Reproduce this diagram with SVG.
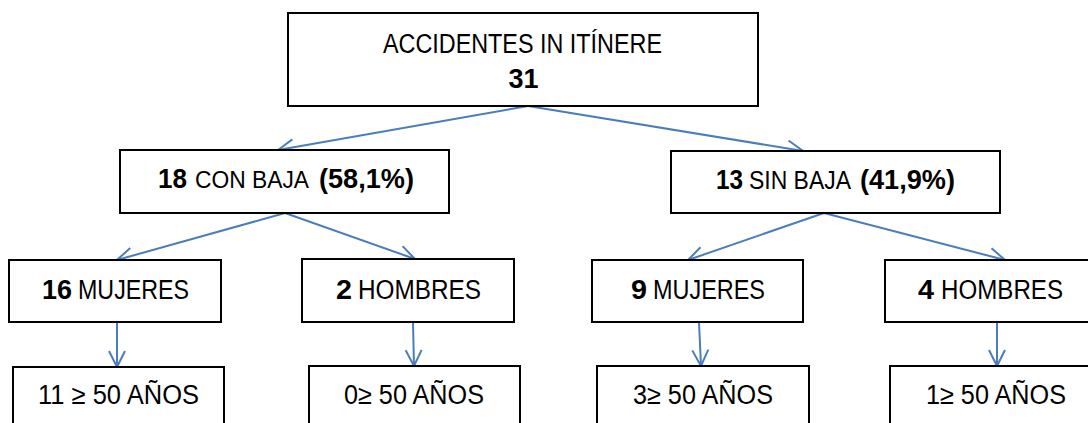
<svg xmlns="http://www.w3.org/2000/svg" width="1088" height="423" viewBox="0 0 1088 423">
<style>
.box{fill:#fff;stroke:#000;stroke-width:2}
.t{font-family:"Liberation Sans",Arial,sans-serif;font-size:27px;fill:#000;text-anchor:middle}
.s{font-family:"Liberation Sans",Arial,sans-serif;font-size:27px;fill:#000;text-anchor:start}
.b{font-weight:bold}
.c{fill:none;stroke:#4A7EBB;stroke-width:2;marker-end:url(#ah)}
</style>
<defs>
<marker id="ah" markerUnits="userSpaceOnUse" markerWidth="24" markerHeight="24" viewBox="-20 -12 24 24" refX="0" refY="0" orient="auto">
<path d="M-16,-8 L0,0 L-16,8" fill="none" stroke="#4A7EBB" stroke-width="2"/>
</marker>
</defs>
<rect width="1088" height="423" fill="#fff"/>
<g id="connectors">
<line class="c" x1="528" y1="106" x2="278" y2="150"/>
<line class="c" x1="528" y1="106" x2="803" y2="151"/>
<line class="c" x1="285" y1="213" x2="117" y2="260"/>
<line class="c" x1="285" y1="213" x2="415" y2="259"/>
<line class="c" x1="824" y1="213" x2="688" y2="260"/>
<line class="c" x1="824" y1="213" x2="1005" y2="260"/>
<line class="c" x1="117" y1="322" x2="117" y2="367"/>
<line class="c" x1="413" y1="322" x2="414" y2="366"/>
<line class="c" x1="699" y1="322" x2="701" y2="366"/>
<line class="c" x1="997" y1="322" x2="997" y2="366"/>
</g>
<g id="n-total">
<rect class="box" x="288" y="13" width="470" height="93"/>
<text class="t" x="522.5" y="53" textLength="279" lengthAdjust="spacingAndGlyphs">ACCIDENTES IN ITÍNERE</text>
<text class="t b" x="523.5" y="88">31</text>
</g>
<g id="n-con-baja">
<rect class="box" x="120" y="150" width="329" height="63"/>
<text class="s b" x="158" y="188" textLength="29" lengthAdjust="spacingAndGlyphs">18</text>
<text class="s" x="195" y="188" style="font-size:24.5px" textLength="114" lengthAdjust="spacingAndGlyphs">CON BAJA</text>
<text class="s b" x="319" y="188" textLength="95" lengthAdjust="spacingAndGlyphs">(58,1%)</text>
</g>
<g id="n-sin-baja">
<rect class="box" x="671" y="151" width="329" height="62"/>
<text class="s b" x="716" y="189" textLength="27" lengthAdjust="spacingAndGlyphs">13</text>
<text class="s" x="749" y="189" style="font-size:26px" textLength="102" lengthAdjust="spacingAndGlyphs">SIN BAJA</text>
<text class="s b" x="860" y="189" textLength="95" lengthAdjust="spacingAndGlyphs">(41,9%)</text>
</g>
<g id="n-con-mujeres">
<rect class="box" x="9" y="260" width="212" height="62"/>
<text class="s b" x="42" y="299" textLength="30" lengthAdjust="spacingAndGlyphs">16</text>
<text class="s" x="78" y="299" textLength="111" lengthAdjust="spacingAndGlyphs">MUJERES</text>
</g>
<g id="n-con-hombres">
<rect class="box" x="302" y="259" width="212" height="63"/>
<text class="s b" x="336" y="299" textLength="16" lengthAdjust="spacingAndGlyphs">2</text>
<text class="s" x="358" y="299" textLength="123" lengthAdjust="spacingAndGlyphs">HOMBRES</text>
</g>
<g id="n-sin-mujeres">
<rect class="box" x="592" y="260" width="211" height="62"/>
<text class="s b" x="631" y="299" textLength="16" lengthAdjust="spacingAndGlyphs">9</text>
<text class="s" x="653" y="299" textLength="112" lengthAdjust="spacingAndGlyphs">MUJERES</text>
</g>
<g id="n-sin-hombres">
<rect class="box" x="885" y="260" width="212" height="62"/>
<text class="s b" x="918" y="299" textLength="16" lengthAdjust="spacingAndGlyphs">4</text>
<text class="s" x="941" y="299" textLength="122" lengthAdjust="spacingAndGlyphs">HOMBRES</text>
</g>
<g id="n-con-mujeres-50">
<rect class="box" x="13" y="367" width="211" height="70"/>
<text class="t" x="118.5" y="404" textLength="161" lengthAdjust="spacingAndGlyphs">11 ≥ 50 AÑOS</text>
</g>
<g id="n-con-hombres-50">
<rect class="box" x="309" y="366" width="211" height="70"/>
<text class="t" x="414" y="404" textLength="140" lengthAdjust="spacingAndGlyphs">0≥ 50 AÑOS</text>
</g>
<g id="n-sin-mujeres-50">
<rect class="box" x="597" y="366" width="212" height="70"/>
<text class="t" x="703" y="404" textLength="140" lengthAdjust="spacingAndGlyphs">3≥ 50 AÑOS</text>
</g>
<g id="n-sin-hombres-50">
<rect class="box" x="890" y="366" width="212" height="70"/>
<text class="t" x="996" y="404" textLength="140" lengthAdjust="spacingAndGlyphs">1≥ 50 AÑOS</text>
</g>
</svg>
